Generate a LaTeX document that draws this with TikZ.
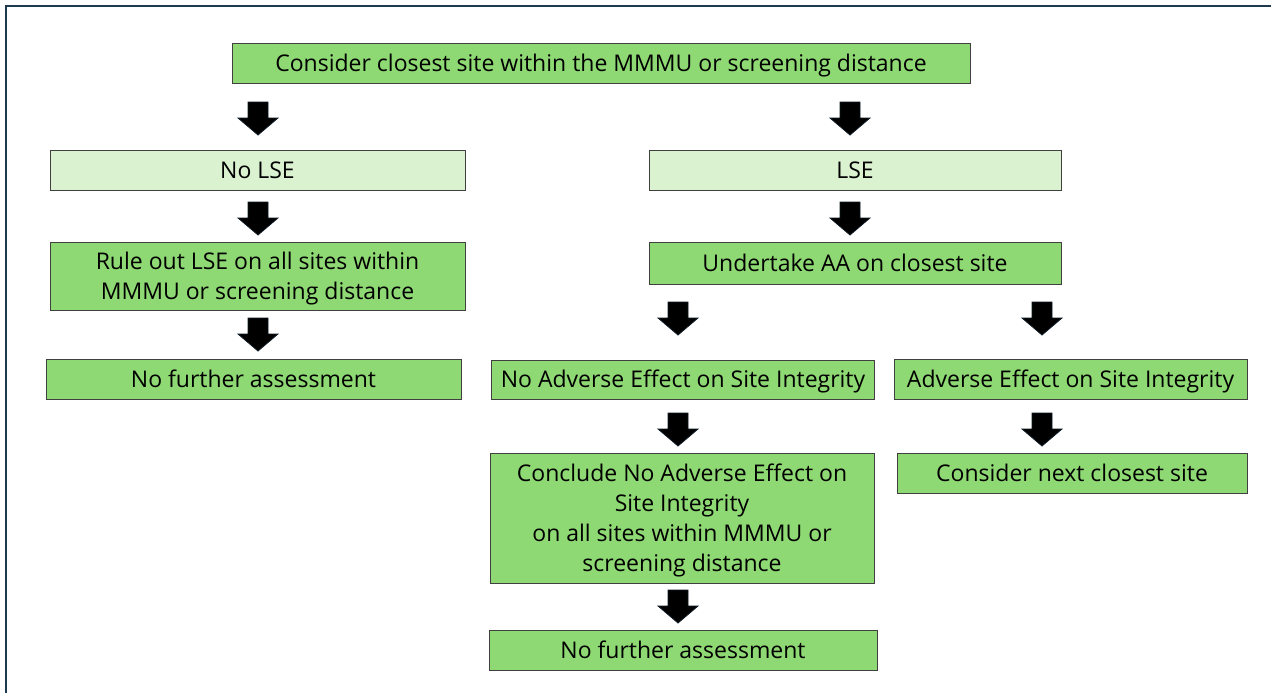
\documentclass[tikz,border=0pt]{standalone}
\usepackage{fontspec}
\setmainfont{Open Sans}
\definecolor{frame}{HTML}{1E3A4C}
\definecolor{dkgreen}{HTML}{8ED973}
\definecolor{ltgreen}{HTML}{DAF2D0}
\definecolor{boxline}{HTML}{404040}
\definecolor{arrline}{HTML}{0E1A24}
\newcommand\mytopstrut{\rule{0pt}{22pt}}
\tikzset{
  box/.style={draw=boxline, line width=0.9pt, fill=dkgreen, inner sep=0pt, align=center,
    font=\fontsize{23}{30}\selectfont},
  one/.style={text height=16pt, text depth=0pt},
  lbox/.style={box, fill=ltgreen},
  barrow/.pic={
    \filldraw[fill=black, draw=arrline, line width=0.8pt]
      (-10,0) -- (10,0) -- (10,16) -- (20,16) -- (0,33) -- (-20,16) -- (-10,16) -- cycle;
  }
}
\begin{document}
\begin{tikzpicture}[x=1pt,y=-1pt]
\useasboundingbox (0,0) rectangle (1271,693);
\fill[white] (0,0) rectangle (1271,693);
\draw[frame, line width=2pt] (6,700) -- (6,6) -- (1280,6);

\node[box, one, minimum width=738, minimum height=40] (top) at (601,63) {Consider closest site within the MMMU or screening distance};
\node[lbox, one, minimum width=415, minimum height=40] (nolse) at (257.5,170) {No LSE};
\node[lbox, one, minimum width=412, minimum height=40] (lse) at (855,170) {LSE};
\node[box, minimum width=415, minimum height=68] (rule) at (257.5,276) {\mytopstrut Rule out LSE on all sites within\\MMMU or screening distance};
\node[box, one, minimum width=412, minimum height=42] (aa) at (855,263) {Undertake AA on closest site};
\node[box, one, minimum width=415, minimum height=40] (nfa1) at (253.5,379) {No further assessment};
\node[box, one, minimum width=383, minimum height=39] (noae) at (683,379.5) {No Adverse Effect on Site Integrity};
\node[box, one, minimum width=353, minimum height=40] (ae) at (1070.5,379) {Adverse Effect on Site Integrity};
\node[box, minimum width=384, minimum height=130] (concl) at (682,518) {\mytopstrut Conclude No Adverse Effect on\\Site Integrity\\on all sites within MMMU or\\screening distance};
\node[box, one, minimum width=350, minimum height=40] (next) at (1072,473) {Consider next closest site};
\node[box, one, minimum width=388, minimum height=40] (nfa2) at (683,650) {No further assessment};

\pic at (258,102) {barrow};
\pic at (850,102) {barrow};
\pic at (258,202) {barrow};
\pic at (850,202) {barrow};
\pic at (258,318) {barrow};
\pic at (678,302) {barrow};
\pic at (1042,302) {barrow};
\pic at (678,413) {barrow};
\pic at (1042,413) {barrow};
\pic at (678,590) {barrow};
\end{tikzpicture}
\end{document}
